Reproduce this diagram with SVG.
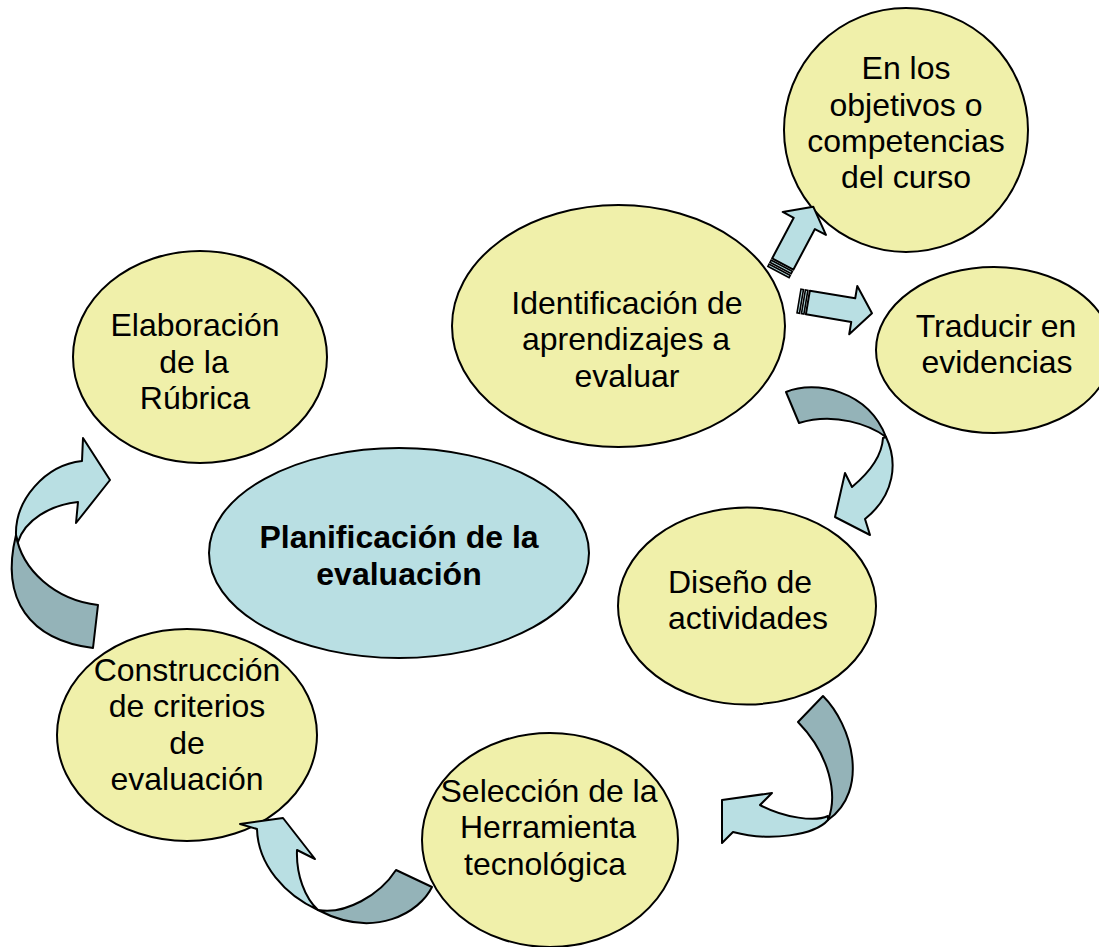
<svg xmlns="http://www.w3.org/2000/svg" width="1099" height="947" viewBox="0 0 1099 947">
<style>
.node{fill:#f0f0aa;stroke:#000;stroke-width:2}
.center{fill:#b9dfe3;stroke:#000;stroke-width:2}
.t{font-family:"Liberation Sans",Arial,sans-serif;font-size:32px;fill:#000;text-anchor:middle}
.b{font-weight:bold}
.lt{fill:#b9dfe3;stroke:#000;stroke-width:2;stroke-linejoin:round}
.dk{fill:#94b3b8;stroke:#000;stroke-width:2;stroke-linejoin:round}
.st{fill:#b9dfe3;stroke:#000;stroke-width:1.6}
</style>
<defs>
<g id="striped">
<rect class="st" x="0" y="-12" width="2.5" height="24"/>
<rect class="st" x="4.5" y="-12" width="2.5" height="24"/>
<path class="lt" d="M9,-12 H55 V-24.5 L74,0 L55,24.5 V12 H9 Z"/>
</g>
</defs>
<rect width="1099" height="947" fill="#fff"/>
<g id="node-objetivos">
<ellipse class="node" cx="906" cy="130" rx="122" ry="122"/>
<text class="t" x="906" y="79">En los</text>
<text class="t" x="906" y="116">objetivos o</text>
<text class="t" x="906" y="152">competencias</text>
<text class="t" x="906" y="188">del curso</text>
</g>
<g id="node-traducir">
<ellipse class="node" cx="994" cy="350" rx="118" ry="83"/>
<text class="t" x="996" y="337">Traducir en</text>
<text class="t" x="997" y="373">evidencias</text>
</g>
<g id="node-identificacion">
<ellipse class="node" cx="618.5" cy="326" rx="166.5" ry="121"/>
<text class="t" x="627" y="314">Identificación de</text>
<text class="t" x="626" y="350">aprendizajes a</text>
<text class="t" x="627" y="387">evaluar</text>
</g>
<g id="node-elaboracion">
<ellipse class="node" cx="200" cy="357" rx="127" ry="106"/>
<text class="t" x="195" y="336">Elaboración</text>
<text class="t" x="194" y="373">de la</text>
<text class="t" x="195" y="409">Rúbrica</text>
</g>
<g id="node-planificacion">
<ellipse class="center" cx="399" cy="553" rx="190" ry="105"/>
<text class="t b" x="399" y="548">Planificación de la</text>
<text class="t b" x="399" y="585">evaluación</text>
</g>
<g id="node-diseno">
<ellipse class="node" cx="747" cy="606" rx="129" ry="98.5"/>
<text class="t" x="740" y="593">Diseño de</text>
<text class="t" x="748" y="629">actividades</text>
</g>
<g id="node-construccion">
<ellipse class="node" cx="187" cy="735" rx="130" ry="106"/>
<text class="t" x="187" y="681">Construcción</text>
<text class="t" x="187" y="717">de criterios</text>
<text class="t" x="187" y="754">de</text>
<text class="t" x="187" y="790">evaluación</text>
</g>
<g id="node-seleccion">
<ellipse class="node" cx="550" cy="840" rx="128" ry="107"/>
<text class="t" x="549" y="802">Selección de la</text>
<text class="t" x="548" y="838">Herramienta</text>
<text class="t" x="545" y="875">tecnológica</text>
</g>
<g id="connectors">
<use href="#striped" transform="translate(778.5,272) rotate(-62)"/>
<use href="#striped" transform="translate(799,301) rotate(9.5)"/>
<path class="dk" d="M786,392 C815,380 868,390 886,437 C870,425 835,412 799,423 Z"/>
<path class="lt" d="M886,437 C898,462 895,495 865,519 L870,535 L835,517 L845,473 L852,487 C870,472 882,455 883,438 Z"/>
<path class="dk" d="M823,696 C852,725 870,790 828,820 C838,795 830,755 798,722 Z"/>
<path class="lt" d="M828,820 C815,835 770,842 733,832 L722,843 L722,800 L772,793 L760,805 C785,818 815,822 828,816 Z"/>
<path class="dk" d="M396,870 L432,887 C420,912 375,940 318,910 C345,915 380,895 396,870 Z"/>
<path class="lt" d="M318,910 C285,895 258,865 257,829 L240,824 L283,818 L315,859 L297,850 C296,875 305,898 318,910 Z"/>
<path class="dk" d="M98,605 L93,648 C30,640 0,600 16,535 C22,570 55,600 98,605 Z"/>
<path class="lt" d="M16,535 C15,500 45,465 82,461 L83,438 L110,480 L76,523 L78,502 C50,505 25,520 18,542 Z"/>
</g>
</svg>
